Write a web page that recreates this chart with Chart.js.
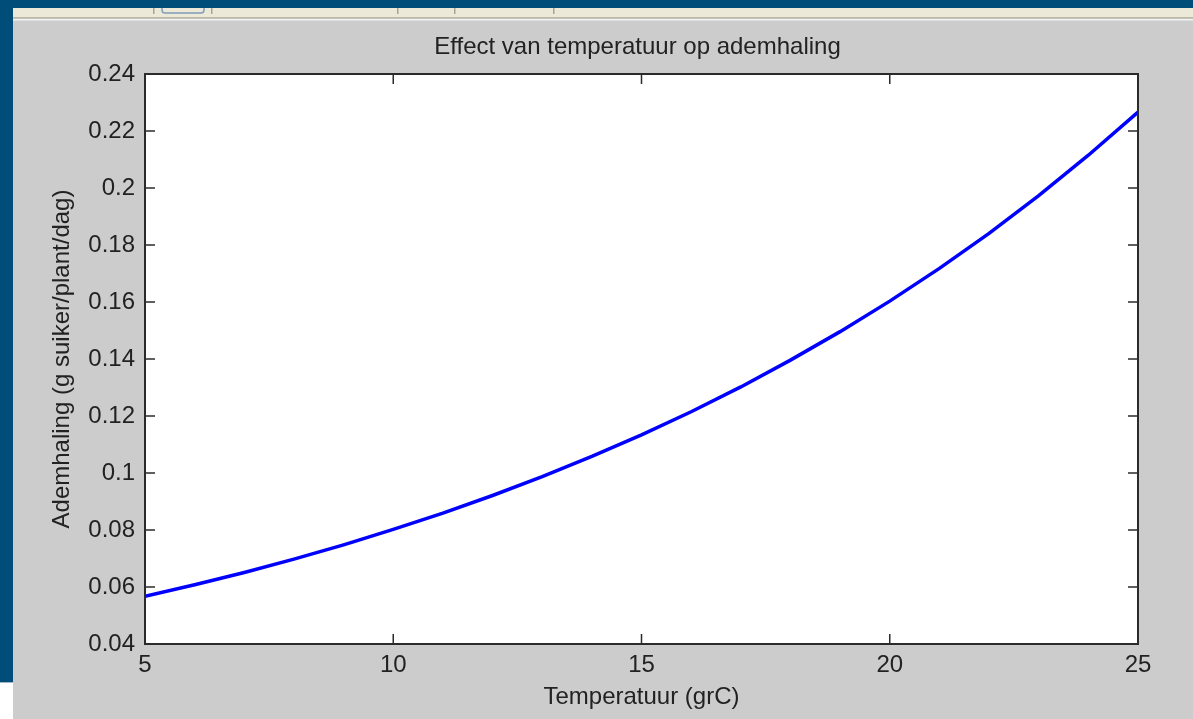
<!DOCTYPE html>
<html>
<head>
<meta charset="utf-8">
<title>Effect van temperatuur op ademhaling</title>
<script src="https://cdn.jsdelivr.net/npm/chart.js@4"></script>
<style>
  html, body { margin: 0; padding: 0; background: #cccccc; }
  #wrap { position: relative; width: 1193px; height: 719px; }
</style>
</head>
<body>
<div id="wrap"><canvas id="chart"></canvas></div>
<script>
// temperature (grC) and respiration (g suiker/plant/dag)
const temperatures = [5, 6, 7, 8, 9, 10, 11, 12, 13, 14, 15, 16, 17, 18, 19, 20, 21, 22, 23, 24, 25];
const respiration = [0.0567, 0.0608, 0.0651, 0.0698, 0.0748, 0.0802, 0.0859, 0.0921, 0.0987, 0.1058,
  0.1134, 0.1215, 0.1302, 0.1396, 0.1496, 0.1603, 0.1718, 0.1841, 0.1973, 0.2115, 0.2266];
const xTickLabels = ['5', '10', '15', '20', '25'];
const yTickLabels = ['0.04', '0.06', '0.08', '0.1', '0.12', '0.14', '0.16', '0.18', '0.2', '0.22', '0.24'];
const chartTitle = 'Effect van temperatuur op ademhaling';

const FONT = '"Liberation Sans", Arial, sans-serif';
const TEXT = '#222222';

// window chrome behind the figure + white axes box
const figureBackground = {
  id: 'figureBackground',
  beforeDraw(chart) {
    const { ctx, width, height, chartArea } = chart;
    ctx.save();
    ctx.fillStyle = '#cccccc';
    ctx.fillRect(0, 0, width, height);
    // toolbar strip
    ctx.fillStyle = '#ece9d8';
    ctx.fillRect(0, 8, width, 10);
    ctx.fillStyle = '#bdb9a8';
    ctx.fillRect(0, 17, width, 1.5);
    ctx.fillStyle = '#f2f2f2';
    ctx.fillRect(0, 19, width, 1.5);
    ctx.fillStyle = '#a8a596';
    [153, 211, 397, 454, 553].forEach(x => ctx.fillRect(x, 8, 1.5, 6));
    ctx.strokeStyle = '#7f9db9';
    ctx.lineWidth = 1.5;
    ctx.beginPath();
    ctx.moveTo(162, 8);
    ctx.lineTo(162, 10);
    ctx.quadraticCurveTo(162, 13, 165, 13);
    ctx.lineTo(201, 13);
    ctx.quadraticCurveTo(204, 13, 204, 10);
    ctx.lineTo(204, 8);
    ctx.stroke();
    // dark blue window border
    ctx.fillStyle = '#004d7a';
    ctx.fillRect(0, 0, width, 8);
    ctx.fillRect(0, 0, 13, 683);
    ctx.fillStyle = '#ffffff';
    ctx.fillRect(0, 683, 13, height - 683);
    ctx.fillStyle = '#9fb7c8';
    ctx.fillRect(0, 682, 13, 1);
    // axes box
    ctx.fillStyle = '#ffffff';
    ctx.fillRect(chartArea.left, chartArea.top, chartArea.right - chartArea.left, chartArea.bottom - chartArea.top);
    ctx.restore();
  }
};

// MATLAB style box with inward ticks on all four sides, title centred over the axes
const matlabBox = {
  id: 'matlabBox',
  afterDraw(chart) {
    const { ctx, chartArea: a, scales } = chart;
    const tl = 10;
    ctx.save();
    ctx.strokeStyle = '#2b2b2b';
    ctx.lineWidth = 1.5;
    ctx.beginPath();
    scales.x.ticks.forEach(t => {
      const px = scales.x.getPixelForValue(t.value);
      ctx.moveTo(px, a.bottom); ctx.lineTo(px, a.bottom - tl);
      ctx.moveTo(px, a.top); ctx.lineTo(px, a.top + tl);
    });
    scales.y.ticks.forEach(t => {
      const py = scales.y.getPixelForValue(t.value);
      ctx.moveTo(a.left, py); ctx.lineTo(a.left + tl, py);
      ctx.moveTo(a.right, py); ctx.lineTo(a.right - tl, py);
    });
    ctx.stroke();
    ctx.lineWidth = 2;
    ctx.strokeRect(a.left, a.top, a.right - a.left, a.bottom - a.top);

    ctx.fillStyle = TEXT;
    ctx.font = '24px ' + FONT;
    ctx.textAlign = 'center';
    ctx.textBaseline = 'middle';
    ctx.fillText(chartTitle, (a.left + a.right) / 2 - 4, 47);
    ctx.restore();
  }
};

new Chart(document.getElementById('chart'), {
  type: 'line',
  data: {
    datasets: [{
      label: 'Ademhaling',
      data: temperatures.map((t, i) => ({ x: t, y: respiration[i] })),
      borderColor: '#0000ff',
      borderWidth: 3.5,
      pointRadius: 0,
      tension: 0,
      fill: false
    }]
  },
  options: {
    responsive: true,
    maintainAspectRatio: false,
    animation: false,
    devicePixelRatio: 1,
    layout: { padding: { top: 74, left: 0, right: 55, bottom: 0 } },
    plugins: {
      legend: { display: false },
      tooltip: { enabled: false },
      title: { display: false }
    },
    scales: {
      x: {
        type: 'linear',
        min: 5,
        max: 25,
        grid: { display: false, drawTicks: false },
        border: { display: false },
        ticks: {
          stepSize: 5,
          padding: 7,
          color: TEXT,
          font: { family: FONT, size: 24 },
          callback: (v, i) => xTickLabels[i]
        },
        title: {
          display: true,
          text: 'Temperatuur (grC)',
          color: TEXT,
          font: { family: FONT, size: 24 },
          padding: { top: 0, bottom: 7 }
        },
        afterFit(scale) { scale.height = 75; }
      },
      y: {
        min: 0.04,
        max: 0.24,
        grid: { display: false, drawTicks: false },
        border: { display: false },
        ticks: {
          stepSize: 0.02,
          padding: 10,
          color: TEXT,
          font: { family: FONT, size: 24 },
          callback: (v, i) => yTickLabels[i]
        },
        title: {
          display: true,
          text: 'Ademhaling (g suiker/plant/dag)',
          color: TEXT,
          font: { family: FONT, size: 24 },
          padding: { top: 48, bottom: 0 }
        },
        afterFit(scale) { scale.width = 145; }
      }
    }
  },
  plugins: [figureBackground, matlabBox]
});
</script>
</body>
</html>
